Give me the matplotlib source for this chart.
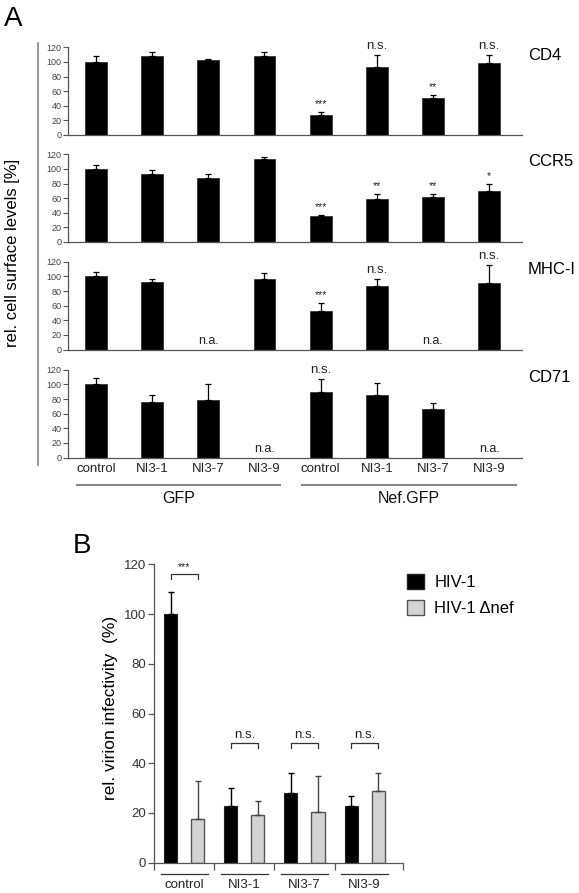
import numpy as np
import matplotlib
matplotlib.use("Agg")
import matplotlib.pyplot as plt
from matplotlib.lines import Line2D
from matplotlib.patches import Patch

plt.rcParams['font.family'] = ['Liberation Sans', 'DejaVu Sans']

# ---- panel A data ----
targets = ['CD4', 'CCR5', 'MHC-I', 'CD71']
cell_lines = ['control', 'NI3-1', 'NI3-7', 'NI3-9', 'control', 'NI3-1', 'NI3-7', 'NI3-9']
groups_a = ['GFP', 'Nef.GFP']
nan = np.nan

cd4_mean = [100, 108, 102, 108, 28, 93, 50, 98]
cd4_err = [8, 5, 2, 5, 3, 17, 5, 11]
cd4_sig = ['', '', '', '', '***', 'n.s.', '**', 'n.s.']

ccr5_mean = [100, 93, 88, 113, 35, 59, 61, 70]
ccr5_err = [6, 6, 5, 3, 2, 6, 4, 10]
ccr5_sig = ['', '', '', '', '***', '**', '**', '*']

mhc_mean = [100, 92, nan, 97, 53, 87, nan, 91]
mhc_err = [6, 4, nan, 7, 10, 9, nan, 25]
mhc_sig = ['', '', 'n.a.', '', '***', 'n.s.', 'n.a.', 'n.s.']

cd71_mean = [100, 76, 79, nan, 89, 85, 66, nan]
cd71_err = [9, 10, 22, nan, 18, 17, 9, nan]
cd71_sig = ['', '', '', 'n.a.', 'n.s.', '', '', 'n.a.']

# ---- panel B data ----
virus = ['HIV-1', 'HIV-1 \u0394nef']
groups_b = ['control', 'NI3-1', 'NI3-7', 'NI3-9']
hiv_mean = [100, 23, 28, 23]
hiv_err = [9, 7, 8, 4]
dnef_mean = [17.5, 19, 20.5, 29]
dnef_err = [15.5, 6, 14.5, 7]
sig_b = ['***', 'n.s.', 'n.s.', 'n.s.']
bracket_y = [116, 48, 48, 48]

W, H = 579, 893
fig = plt.figure(figsize=(W / 100, H / 100), dpi=100)


def px_axes(left, top, right, bottom):
    return fig.add_axes([left / W, 1 - bottom / H, (right - left) / W, (bottom - top) / H])


def ftext(x, y, s, **kw):
    return fig.text(x / W, 1 - y / H, s, **kw)


panels = [
    (cd4_mean, cd4_err, cd4_sig),
    (ccr5_mean, ccr5_err, ccr5_sig),
    (mhc_mean, mhc_err, mhc_sig),
    (cd71_mean, cd71_err, cd71_sig),
]
zeros = [135, 242, 349.5, 457.5]
x = np.arange(len(cell_lines))

for k, (name, (mean, err, sig), y0) in enumerate(zip(targets, panels, zeros)):
    ax = px_axes(67.7, y0 - 87.7, 521.7, y0)
    mean = np.array(mean, dtype=float)
    err = np.array(err, dtype=float)
    ax.bar(x, np.nan_to_num(mean), width=0.39, color='black', edgecolor='#222', lw=0.5)
    ax.errorbar(x, mean, yerr=[np.zeros_like(err), err], fmt='none', ecolor='black',
                elinewidth=0.9, capsize=2.2, capthick=0.9, clip_on=False)
    for i, s in enumerate(sig):
        if s == 'n.a.':
            ax.text(x[i], 3, s, ha='center', va='bottom', fontsize=9, color='#222')
        elif s:
            fs = 9.5 if s == 'n.s.' else 7.5
            ax.text(x[i], mean[i] + err[i] + 4, s, ha='center', va='bottom',
                    fontsize=fs, color='#222', clip_on=False)
    ax.set_xlim(-0.504, 7.58)
    ax.set_ylim(0, 120)
    ax.set_yticks(range(0, 121, 20))
    ax.tick_params(axis='y', labelsize=6.5, labelcolor='#444', color='#555',
                   length=3.5, width=0.8, pad=1)
    for side in ['top', 'right']:
        ax.spines[side].set_visible(False)
    for side in ['left', 'bottom']:
        ax.spines[side].set_color('#555')
        ax.spines[side].set_linewidth(0.9)
    if k == len(targets) - 1:
        ax.set_xticks(x)
        ax.set_xticklabels(cell_lines, fontsize=9.5, color='#222')
        ax.tick_params(axis='x', length=0, pad=4)
        trans = ax.get_xaxis_transform()
        spans = [(-0.33, 3.27), (3.67, 7.48)]
        for g, (a, b) in zip(groups_a, spans):
            ax.plot([a, b], [-0.313, -0.313], transform=trans, color='#888',
                    lw=1.5, clip_on=False)
            ax.text((a + b) / 2, -0.4675, g, transform=trans, ha='center',
                    va='center', fontsize=11.5, color='#111')
    else:
        ax.set_xticks([])
    ftext(528, y0 - 80, name, fontsize=12, va='center', ha='left')

fig.add_artist(Line2D([38 / W, 38 / W], [1 - 43 / H, 1 - 465 / H], color='#888', lw=1.2))
ftext(13, 253, 'rel. cell surface levels [%]', rotation=90, fontsize=12,
      ha='center', va='center')
ftext(4, 26, 'A', fontsize=20, va='baseline', ha='left')

# ---- panel B ----
axb = px_axes(154.3, 564.3, 403, 862.7)
xb = np.arange(len(groups_b))
off = 0.225
bw = 0.217
axb.bar(xb - off, hiv_mean, width=bw, color='black', edgecolor='#222', lw=0.8)
axb.bar(xb + off, dnef_mean, width=bw, color='#d3d3d3', edgecolor='#555', lw=1.0)
axb.errorbar(xb - off, hiv_mean, yerr=[np.zeros(4), hiv_err], fmt='none', ecolor='black',
             elinewidth=1.0, capsize=2.5, capthick=1.0)
axb.errorbar(xb + off, dnef_mean, yerr=[np.zeros(4), dnef_err], fmt='none', ecolor='#444',
             elinewidth=1.0, capsize=2.5, capthick=1.0)
for i, (s, yb) in enumerate(zip(sig_b, bracket_y)):
    axb.plot([i - off, i - off, i + off, i + off], [yb - 1.8, yb, yb, yb - 1.8],
             color='#333', lw=0.9)
    fs = 9.5 if s == 'n.s.' else 7.5
    axb.text(i, yb + 0.8, s, ha='center', va='bottom', fontsize=fs, color='#222')

axb.set_xlim(-0.5, 3.64)
axb.set_ylim(0, 120)
axb.set_yticks(range(0, 121, 20))
axb.set_xticks([-0.5, 0.5, 1.5, 2.5, 3.64])
axb.set_xticklabels([])
axb.tick_params(axis='x', length=5, width=0.9, color='#555', direction='out')
axb.tick_params(axis='y', labelsize=9.5, labelcolor='#333', color='#555',
                length=4, width=0.9, pad=2)
for side in ['top', 'right']:
    axb.spines[side].set_visible(False)
for side in ['left', 'bottom']:
    axb.spines[side].set_color('#555')
    axb.spines[side].set_linewidth(0.9)
transb = axb.get_xaxis_transform()
for i, g in enumerate(groups_b):
    axb.plot([i - 0.39, i + 0.39], [-0.038, -0.038], transform=transb, color='#333',
             lw=0.9, clip_on=False)
    axb.text(i, -0.075, g, transform=transb, ha='center', va='center',
             fontsize=9.5, color='#222')

ftext(110, 708, 'rel. virion infectivity  (%)', rotation=90, fontsize=12.5,
      ha='center', va='center')
ftext(73, 553, 'B', fontsize=20, va='baseline', ha='left')

handles = [Patch(facecolor='black', edgecolor='#222'),
           Patch(facecolor='#d3d3d3', edgecolor='#555')]
fig.legend(handles, virus, loc='upper left', bbox_to_anchor=(407 / W, 1 - 574 / H),
           frameon=False, fontsize=12, handlelength=1.0, handleheight=1.0,
           handletextpad=0.65, labelspacing=0.6, borderpad=0, borderaxespad=0)

fig.savefig('out.png', dpi=100)
